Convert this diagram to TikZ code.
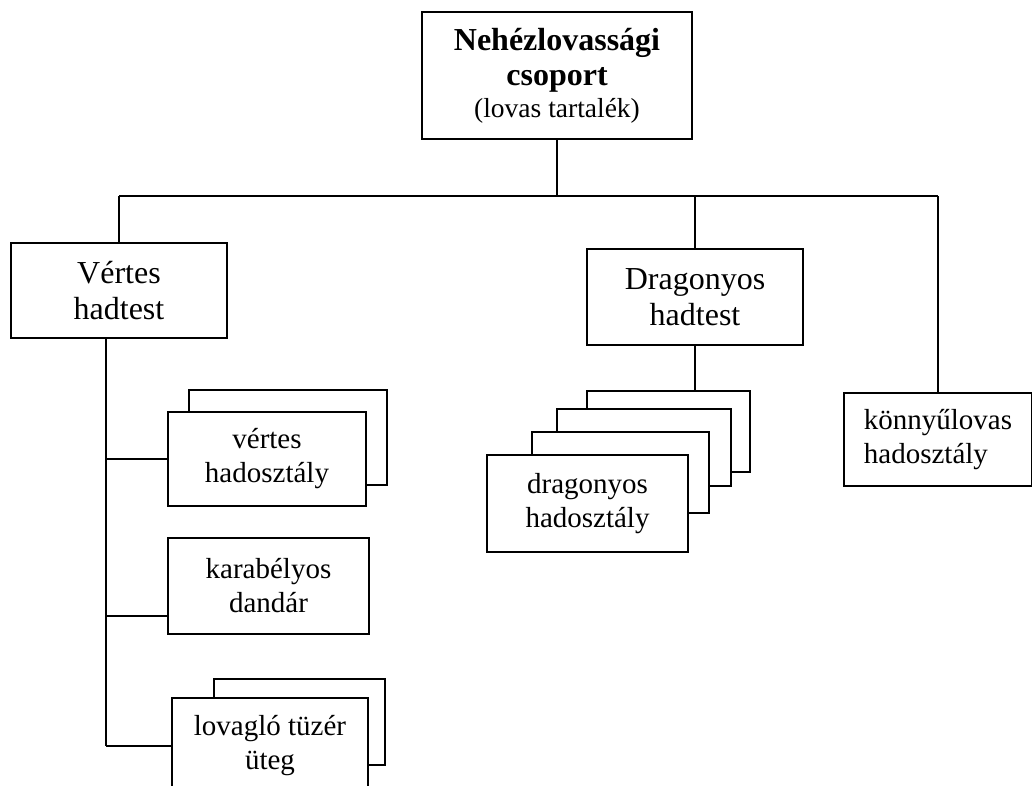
\documentclass[tikz,border=0pt]{standalone}
\usepackage{fontspec}
\setmainfont{Liberation Serif}
\usepackage{tikz}
\usetikzlibrary{positioning,calc}
\tikzset{
    unit/.style={draw=black, fill=white, line width=2pt, inner sep=0pt, align=center,
        font=\fontsize{29}{34}\selectfont},
    corps/.style={unit, font=\fontsize{32}{36}\selectfont},
    link/.style={line width=2pt},
}

\begin{document}
\begin{tikzpicture}[x=1pt,y=-1pt]
    \useasboundingbox (0,0) rectangle (1032,785);

    \node[unit, minimum width=270, minimum height=127, font=\fontsize{32}{35}\selectfont] (group) at (557,75.5)
        {\textbf{Nehézlovassági}\\\textbf{csoport}\\[-3pt]{\fontsize{27.5}{32}\selectfont(lovas tartalék)}};

    \node[corps, minimum width=216, minimum height=95] (vertesCorps) at (119,290.5) {Vértes\\hadtest};
    \node[corps, minimum width=216, minimum height=96] (dragonCorps) at (695,297) {Dragonyos\\hadtest};
    \node[unit, minimum width=188, minimum height=93, align=left] (lightDiv) at (938,439.5) {könnyűlovas\\hadosztály};

    \node[unit, minimum width=198, minimum height=95] (vertesDivBack) at (288,437.5) {};
    \node[unit, minimum width=198, minimum height=94] (vertesDiv) at (267,459) {vértes\\hadosztály};
    \node[unit, minimum width=201, minimum height=96] (carabBrig) at (268.5,586) {karabélyos\\dandár};
    \node[unit, minimum width=171, minimum height=86] (batteryBack) at (299.5,722) {};
    \node[unit, minimum width=196, minimum height=95] (battery) at (270,745.5) {lovagló tüzér\\üteg};

    \node[unit, minimum width=163, minimum height=81] (dragonDivC) at (668.5,431.5) {};
    \node[unit, minimum width=174, minimum height=77] (dragonDivB) at (644,447.5) {};
    \node[unit, minimum width=177, minimum height=81] (dragonDivA) at (620.5,472.5) {};
    \node[unit, minimum width=201, minimum height=97] (dragonDiv) at (587.5,503.5) {dragonyos\\hadosztály};

    \coordinate (bus) at (557,196);
    \coordinate (spine) at (106,338);
    \coordinate (carabIn) at ([yshift=-30pt]carabBrig.west);

    \draw[link] (group.south) -- (group.south |- bus);
    \draw[link] (vertesCorps.north |- bus) -- (lightDiv.north |- bus);
    \draw[link] (vertesCorps.north |- bus) -- (vertesCorps.north);
    \draw[link] (dragonCorps.north |- bus) -- (dragonCorps.north);
    \draw[link] (lightDiv.north |- bus) -- (lightDiv.north);

    \draw[link] (dragonCorps.south) -- (dragonCorps.south |- dragonDivC.north);

    \draw[link] (spine) -- (spine |- battery.west);
    \draw[link] (spine |- vertesDiv.west) -- (vertesDiv.west);
    \draw[link] (spine |- carabIn) -- (carabIn);
    \draw[link] (spine |- battery.west) -- (battery.west);
\end{tikzpicture}
\end{document}
